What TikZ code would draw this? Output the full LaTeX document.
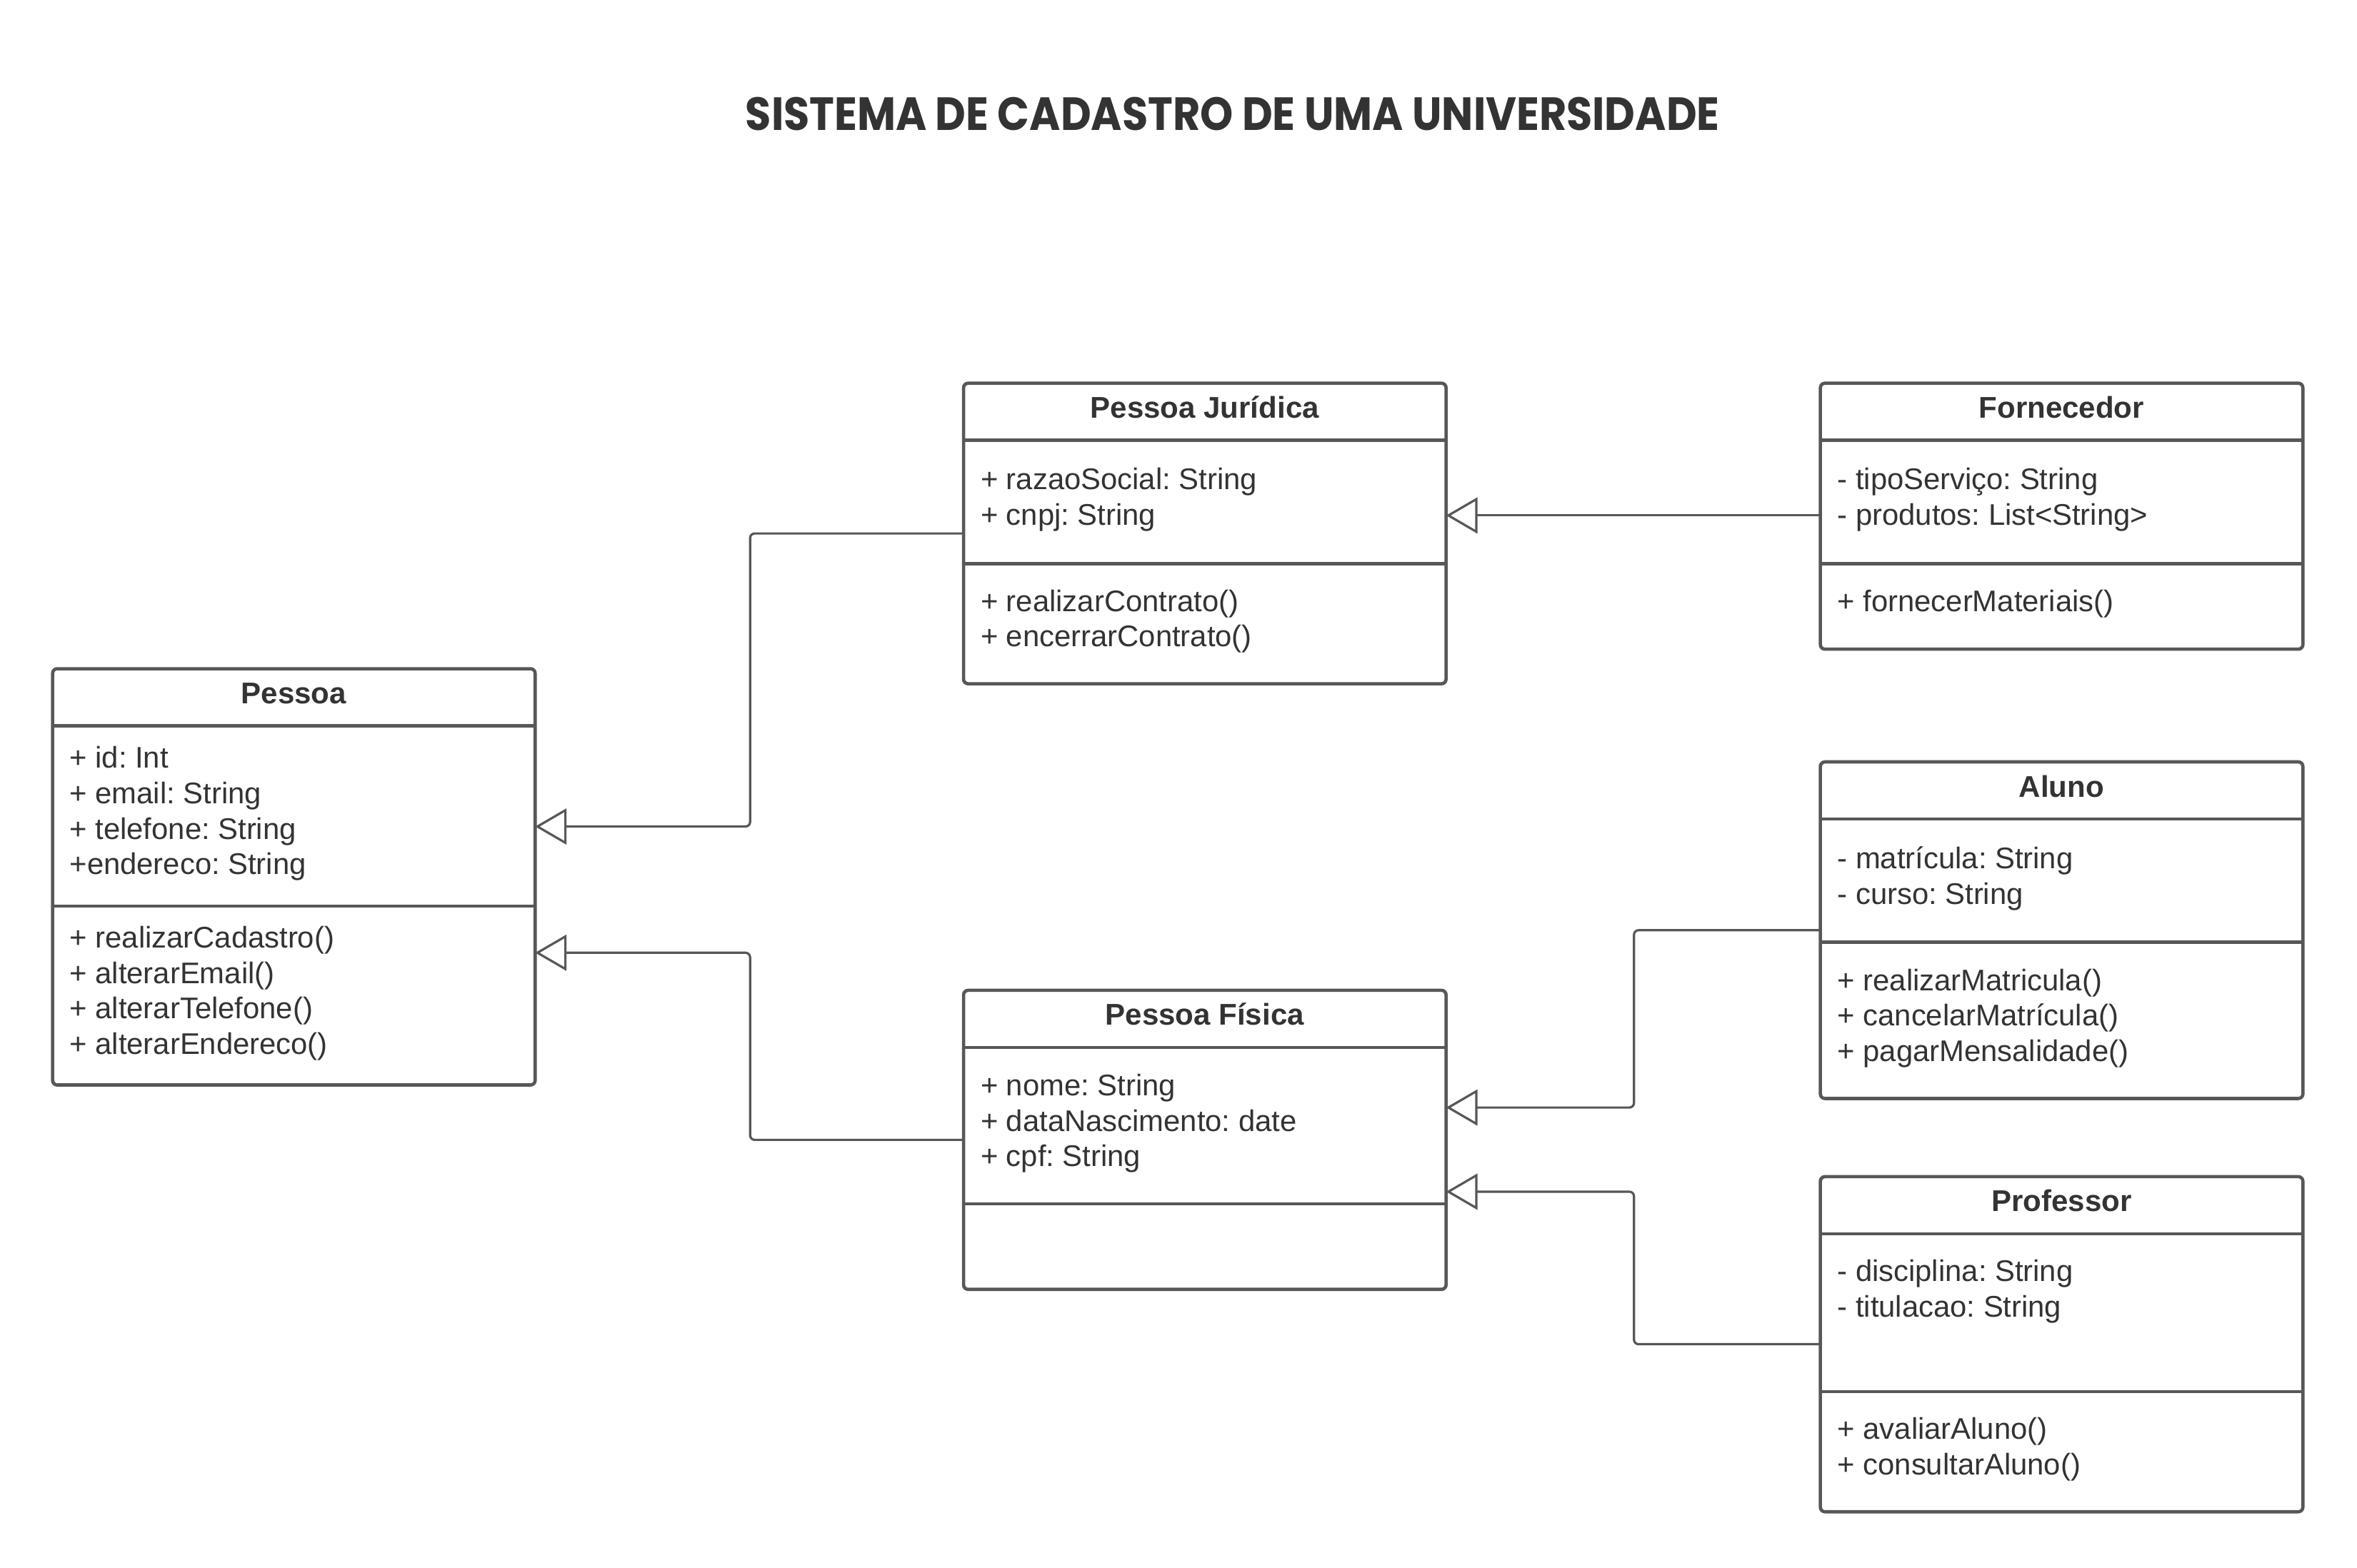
\documentclass[tikz,border=0pt]{standalone}
\usepackage{fontspec}
\setmainfont{Liberation Sans}
\newfontfamily\titlefont{Poppins}
\usetikzlibrary{arrows.meta}
\definecolor{ln}{HTML}{575757}
\definecolor{tx}{HTML}{333333}
\newcommand\umlbox[8]{%
  \node[cls, minimum width={(#4-#2)*0.526148pt}, minimum height={(#5-#3)*0.526148pt}] (#1) at (#2,#3) {};
  \draw[sepl] (#2,#6) -- (#4,#6);
  \draw[sepl] (#2,#7) -- (#4,#7);
  \node[titletext] (#1-t) at ({(#2+#4)/2},{#3+23.3}) {#8};
}
\newcommand\comptxt[5]{%
  \node[comptext] (#1) at ({#2+11},{(#3+#4)/2-1.5}) {#5};
}
\frenchspacing
\begin{document}
\begin{tikzpicture}[x=0.526148pt,y=-0.526148pt,
  cls/.style={draw=ln, line width=1.15pt, rounded corners=1.6pt, fill=white, inner sep=0pt, outer sep=0pt, anchor=north west},
  sepl/.style={draw=ln, line width=1.15pt},
  titletext/.style={anchor=base, inner sep=0pt, text=tx, font=\fontsize{10.5}{12.42}\selectfont\bfseries\frenchspacing},
  comptext/.style={anchor=west, align=left, inner sep=0pt, text=tx, font=\fontsize{10.45}{12.42}\selectfont\frenchspacing},
  inh/.style={draw=ln, line width=0.8pt, rounded corners=1.6pt, -{Triangle[open, length=11pt, width=12.6pt]}}
]
\useasboundingbox (0,0) rectangle (1568,1043.4);
\fill[white] (0,0) rectangle (1568,1043.4);

\node[inner sep=0pt, text=tx] (title) at (820,76)
  {\resizebox{340.9pt}{11.6pt}{\titlefont\bfseries SISTEMA DE CADASTRO DE UMA UNIVERSIDADE}};

% classes
\umlbox{pessoa}{35}{445}{356}{722}{483}{603}{Pessoa}
\comptxt{pessoa-a}{35}{483}{603}{+ id: Int\\+ email: String\\+ telefone: String\\+endereco: String}
\comptxt{pessoa-m}{35}{603}{722}{+ realizarCadastro()\\+ alterarEmail()\\+ alterarTelefone()\\+ alterarEndereco()}

\umlbox{pj}{641}{255}{962}{455}{293}{375}{Pessoa Jurídica}
\comptxt{pj-a}{641}{293}{375}{+ razaoSocial: String\\+ cnpj: String}
\comptxt{pj-m}{641}{375}{455}{+ realizarContrato()\\+ encerrarContrato()}

\umlbox{forn}{1211}{255}{1532}{432}{293}{375}{Fornecedor}
\comptxt{forn-a}{1211}{293}{375}{- tipoServiço: String\\- produtos: List<String>}
\comptxt{forn-m}{1211}{375}{432}{+ fornecerMateriais()}

\umlbox{aluno}{1211}{507}{1532}{731}{545}{627}{Aluno}
\comptxt{aluno-a}{1211}{545}{627}{- matrícula: String\\- curso: String}
\comptxt{aluno-m}{1211}{627}{731}{+ realizarMatricula()\\+ cancelarMatrícula()\\+ pagarMensalidade()}

\umlbox{pf}{641}{659}{962}{858}{697}{801}{Pessoa Física}
\comptxt{pf-a}{641}{697}{801}{+ nome: String\\+ dataNascimento: date\\+ cpf: String}

\umlbox{prof}{1211}{783}{1532}{1006}{821}{926}{Professor}
\comptxt{prof-a}{1211}{818}{923}{- disciplina: String\\- titulacao: String\\\mbox{}}
\comptxt{prof-m}{1211}{926}{1006}{+ avaliarAluno()\\+ consultarAluno()}

% helper heights
\coordinate (y550) at (0,550);
\coordinate (y634) at (0,634);
\coordinate (y343) at (0,343);
\coordinate (y737) at (0,737);
\coordinate (y793) at (0,793);

% generalisations
\draw[inh] (pj.west) -- (499,355) -- (499,550) -- (pessoa.east |- y550);
\draw[inh] (pf.west) -- (499,758.5) -- (499,634) -- (pessoa.east |- y634);
\draw[inh] (forn.west |- y343) -- (pj.east |- y343);
\draw[inh] (aluno.west) -- (1087,619) -- (1087,737) -- (pf.east |- y737);
\draw[inh] (prof.west) -- (1087,894.5) -- (1087,793) -- (pf.east |- y793);
\end{tikzpicture}
\end{document}
